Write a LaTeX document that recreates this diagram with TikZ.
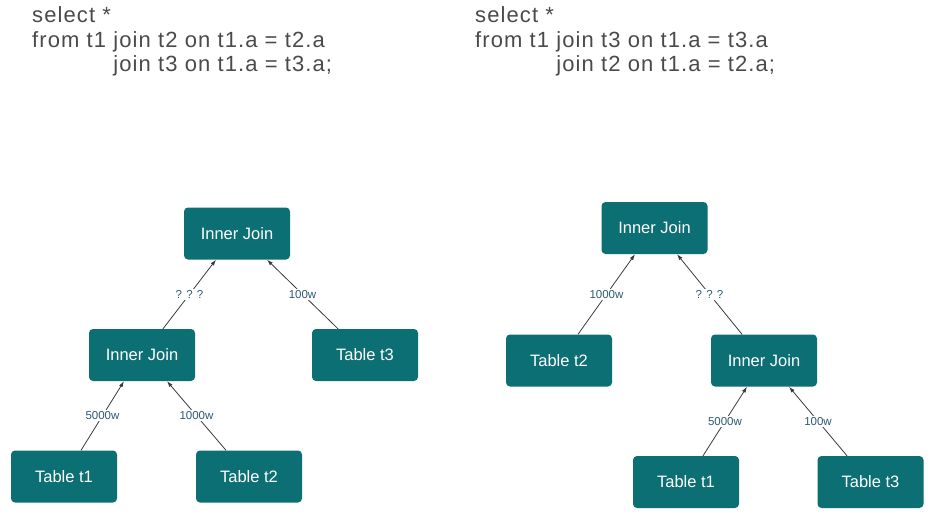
\documentclass[tikz,border=0pt]{standalone}
\usepackage{fontspec}
\setmainfont{Liberation Sans}
\newfontfamily\codefont[LetterSpace=5]{Liberation Sans}
\usetikzlibrary{arrows.meta}
\definecolor{teal}{HTML}{0C6F73}
\definecolor{codegray}{HTML}{4A4A4A}
\definecolor{lblblue}{HTML}{2D5B73}
\definecolor{edgegray}{HTML}{3A3A3A}
\begin{document}
\begin{tikzpicture}[x=1pt,y=-1pt,
  opbox/.style={fill=teal, rounded corners=4pt, minimum width=106pt, minimum height=52pt,
    text=white, font=\fontsize{16.5}{19}\selectfont, inner sep=0pt},
  codeline/.style={anchor=base west, text=codegray, font=\codefont\fontsize{22}{25}\selectfont, inner sep=0pt},
  flow/.style={draw=edgegray, line width=0.8pt, -{Latex[length=6pt,width=4pt]}},
  rows/.style={fill=white, text=lblblue, font=\fontsize{11.5}{13}\selectfont, inner sep=1.5pt, pos=0.5}
]
\useasboundingbox (0,0) rectangle (931,517);

% SQL, first join order
\node[codeline] (la) at (32,22.5) {select *};
\node[codeline] (lb) at (32,47) {from t1 join t2 on t1.a = t2.a};
\node[codeline] (lc) at (32,71.5) {\phantom{from t1 }join t3 on t1.a = t3.a;};

% SQL, second join order
\node[codeline] (ra) at (475,22.5) {select *};
\node[codeline] (rb) at (475,47) {from t1 join t3 on t1.a = t3.a};
\node[codeline] (rc) at (475,71.5) {\phantom{from t1 }join t2 on t1.a = t2.a;};

% Plan tree: (t1 join t2) join t3
\node[opbox] (lij1) at (237,233.5) {Inner Join};
\node[opbox] (lij2) at (142,355) {Inner Join};
\node[opbox] (lt3) at (365,355) {Table t3};
\node[opbox] (lt1) at (64,476.5) {Table t1};
\node[opbox] (lt2) at (249,476.5) {Table t2};

\draw[flow] ([xshift=21pt]lij2.north) -- node[rows] {? ? ?} ([xshift=-21pt]lij1.south);
\draw[flow] ([xshift=-27pt]lt3.north) -- node[rows] {100w} ([xshift=30pt]lij1.south);
\draw[flow] ([xshift=17pt]lt1.north) -- node[rows] {5000w} ([xshift=-18pt]lij2.south);
\draw[flow] ([xshift=-23pt]lt2.north) -- node[rows] {1000w} ([xshift=25pt]lij2.south);

% Plan tree: t2 join (t1 join t3)
\node[opbox] (rij1) at (654.5,228) {Inner Join};
\node[opbox] (rt2) at (559,360.5) {Table t2};
\node[opbox] (rij2) at (764,360.5) {Inner Join};
\node[opbox] (rt1) at (686,482) {Table t1};
\node[opbox] (rt3) at (870.5,482) {Table t3};

\draw[flow] ([xshift=19pt]rt2.north) -- node[rows] {1000w} ([xshift=-19.5pt]rij1.south);
\draw[flow] ([xshift=-22pt]rij2.north) -- node[rows] {? ? ?} ([xshift=22.5pt]rij1.south);
\draw[flow] ([xshift=17pt]rt1.north) -- node[rows] {5000w} ([xshift=-17pt]rij2.south);
\draw[flow] ([xshift=-23.5pt]rt3.north) -- node[rows] {100w} ([xshift=25pt]rij2.south);
\end{tikzpicture}
\end{document}
